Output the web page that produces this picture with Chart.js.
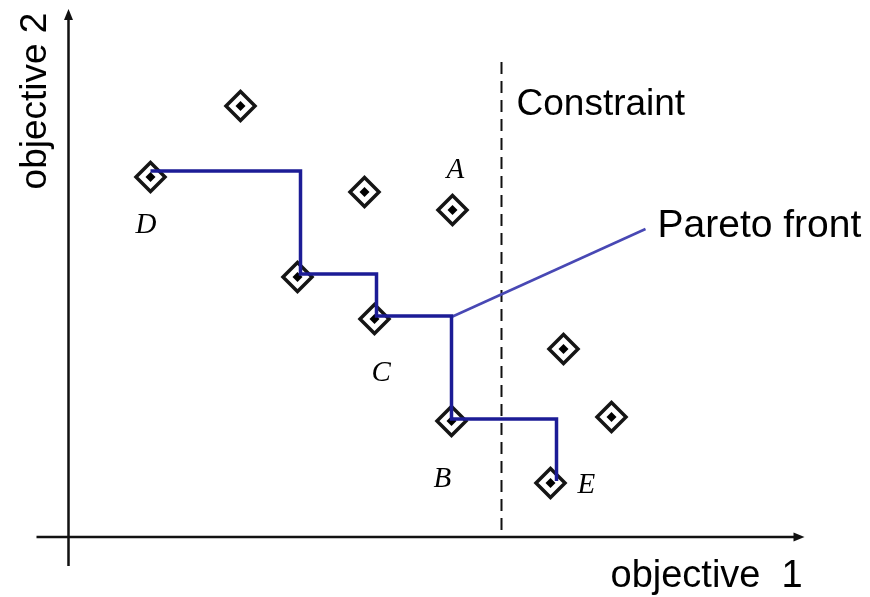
<!DOCTYPE html>
<html>
<head>
<meta charset="utf-8">
<script src="https://cdn.jsdelivr.net/npm/chart.js@4.4.0/dist/chart.umd.min.js"></script>
<style>
  body { margin: 0; background: #fff; }
  canvas { display: block; }
</style>
</head>
<body>
<canvas id="pareto" width="870" height="597"></canvas>
<script>
/* ---------------------------------------------
# DATA
--------------------------------------------- */

// solutions (objective 1, objective 2)
const sol_x = [17.2, 8.2, 29.6, 38.4, 22.9, 30.6, 49.5, 54.3, 38.3, 48.2];
const sol_y = [43.1, 36.0, 34.5, 32.7, 26.0, 21.8, 18.8, 12.0, 11.6, 5.4];

// pareto front corners (drawn as steps)
const front_x = [8.2, 23.2, 30.8, 38.3, 48.8];
const front_y = [36.6, 26.3, 22.1, 11.8, 5.6];

// leader line to the "Pareto front" label
const leader_x = [38.3, 57.7];
const leader_y = [22.0, 30.8];

// constraint on objective 1
const constraint_x = 43.3;
const constraint_y = [0.7, 47.7];

// point names
const names = ['D', 'A', 'C', 'B', 'E'];
const names_x = [6.7, 37.8, 30.3, 36.5, 50.9];
const names_y = [30.4, 35.9, 15.6, 5.0, 4.4];

// other texts
const texts = ['Constraint', 'Pareto front', 'objective  1'];
const texts_x = [44.8, 58.9, 54.2];
const texts_y = [42.2, 30.0, -5.0];
const texts_size = [37, 39, 38];
const ylabel = 'objective 2';

// axis extents
const axis_x = [-3.2, 73.6];
const axis_y = [-2.9, 52.8];


function pontos(xs, ys) {
    return xs.map((x, i) => ({ x: x, y: ys[i] }));
}

function seta(ctx, x, y, ang) {
    ctx.save();
    ctx.translate(x, y);
    ctx.rotate(ang);
    ctx.beginPath();
    ctx.moveTo(0, 0);
    ctx.lineTo(-11, -4.5);
    ctx.lineTo(-11, 4.5);
    ctx.closePath();
    ctx.fill();
    ctx.restore();
}

// axes, arrows and texts
const desenho = {
    id: 'desenho',
    beforeDatasetsDraw(chart) {
        const ctx = chart.ctx;
        const sx = chart.scales.x;
        const sy = chart.scales.y;
        ctx.save();
        ctx.strokeStyle = '#111';
        ctx.fillStyle = '#111';
        ctx.lineWidth = 2.5;
        const x0 = sx.getPixelForValue(0);
        const y0 = sy.getPixelForValue(0);
        ctx.beginPath();
        ctx.moveTo(sx.getPixelForValue(axis_x[0]), y0);
        ctx.lineTo(sx.getPixelForValue(axis_x[1]) - 6, y0);
        ctx.moveTo(x0, sy.getPixelForValue(axis_y[0]));
        ctx.lineTo(x0, sy.getPixelForValue(axis_y[1]) + 6);
        ctx.stroke();
        seta(ctx, sx.getPixelForValue(axis_x[1]), y0, 0);
        seta(ctx, x0, sy.getPixelForValue(axis_y[1]), -Math.PI / 2);
        ctx.restore();
    },
    afterDatasetsDraw(chart) {
        const ctx = chart.ctx;
        const sx = chart.scales.x;
        const sy = chart.scales.y;
        ctx.save();
        ctx.fillStyle = '#000';
        ctx.textBaseline = 'alphabetic';
        ctx.textAlign = 'left';
        ctx.font = 'italic 29px "Liberation Serif", "Times New Roman", serif';
        names.forEach((n, i) => {
            ctx.fillText(n, sx.getPixelForValue(names_x[i]), sy.getPixelForValue(names_y[i]));
        });
        texts.forEach((t, i) => {
            ctx.font = texts_size[i] + 'px "Liberation Sans", Arial, sans-serif';
            ctx.fillText(t, sx.getPixelForValue(texts_x[i]), sy.getPixelForValue(texts_y[i]));
        });
        // y axis title
        ctx.font = '37px "Liberation Sans", Arial, sans-serif';
        ctx.translate(sx.getPixelForValue(-2.3), sy.getPixelForValue(43.6));
        ctx.rotate(-Math.PI / 2);
        ctx.textAlign = 'center';
        ctx.fillText(ylabel, 0, 0);
        ctx.restore();
    }
};

const ctx = document.getElementById('pareto').getContext('2d');
const myChart = new Chart(ctx, {
    type: 'scatter',
    data: {
        datasets: [{
            label: 'Pareto front',
            type: 'line',
            data: pontos(front_x, front_y),
            stepped: 'before',
            borderColor: '#1c1c96',
            borderWidth: 3.5,
            pointRadius: 0,
            fill: false,
            order: 0
        }, {
            label: 'leader',
            type: 'line',
            data: pontos(leader_x, leader_y),
            borderColor: '#4848b4',
            borderWidth: 2.5,
            pointRadius: 0,
            fill: false,
            order: 0
        }, {
            label: 'centro',
            data: pontos(sol_x, sol_y),
            pointStyle: 'rectRot',
            pointRadius: 5,
            backgroundColor: '#000',
            borderColor: '#000',
            borderWidth: 0,
            order: 1
        }, {
            label: 'solucoes',
            data: pontos(sol_x, sol_y),
            pointStyle: 'rectRot',
            pointRadius: 14.5,
            backgroundColor: '#fff',
            borderColor: '#151515',
            borderWidth: 3.5,
            order: 2
        }, {
            label: 'Constraint',
            type: 'line',
            data: constraint_y.map(y => ({ x: constraint_x, y: y })),
            borderColor: '#111',
            borderWidth: 2,
            borderDash: [12, 7],
            pointRadius: 0,
            fill: false,
            order: 3
        }]
    },
    options: {
        responsive: false,
        animation: false,
        events: [],
        layout: { autoPadding: false, padding: 0 },
        plugins: {
            legend: { display: false },
            tooltip: { enabled: false }
        },
        scales: {
            x: { type: 'linear', display: false, min: -6.85, max: 80.15 },
            y: { type: 'linear', display: false, min: -6.0, max: 53.7 }
        }
    },
    plugins: [desenho]
});
</script>
</body>
</html>
